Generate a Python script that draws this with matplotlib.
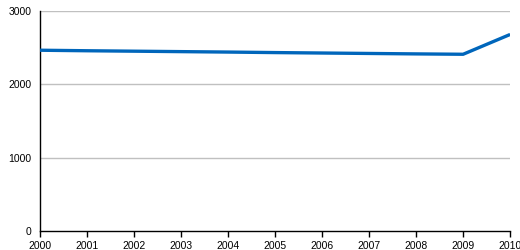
import matplotlib
matplotlib.use('Agg')
import matplotlib.pyplot as plt

years = [2000, 2001, 2002, 2003, 2004, 2005, 2006, 2007, 2008, 2009, 2010]
values = [2465, 2458, 2452, 2446, 2440, 2433, 2427, 2421, 2415, 2410, 2680]
y_ticks = [0, 1000, 2000, 3000]

plt.rcParams['font.family'] = ['Liberation Sans', 'DejaVu Sans']

fig = plt.figure(figsize=(5.2, 2.5), dpi=100)
ax = fig.add_axes([0.077, 0.076, 0.904, 0.88])

# light gridlines, behind the data
for y in y_ticks[1:]:
    ax.axhline(y, color='#c0c0c0', lw=1, zorder=1)

ax.plot(years, values, color='#0066bb', lw=2.4, solid_capstyle='butt', zorder=3)

ax.set_xlim(2000, 2010)
ax.set_ylim(0, 3000)
ax.set_xticks(years)
ax.set_yticks(y_ticks)
ax.tick_params(axis='x', length=4, width=1, pad=3, labelsize=7.5, colors='black')
ax.tick_params(axis='y', length=0, pad=6, labelsize=7.5)

for s in ['top', 'right']:
    ax.spines[s].set_visible(False)
ax.spines['left'].set_linewidth(1)
ax.spines['bottom'].set_linewidth(1)

fig.savefig('out.png', dpi=100, facecolor='white')
